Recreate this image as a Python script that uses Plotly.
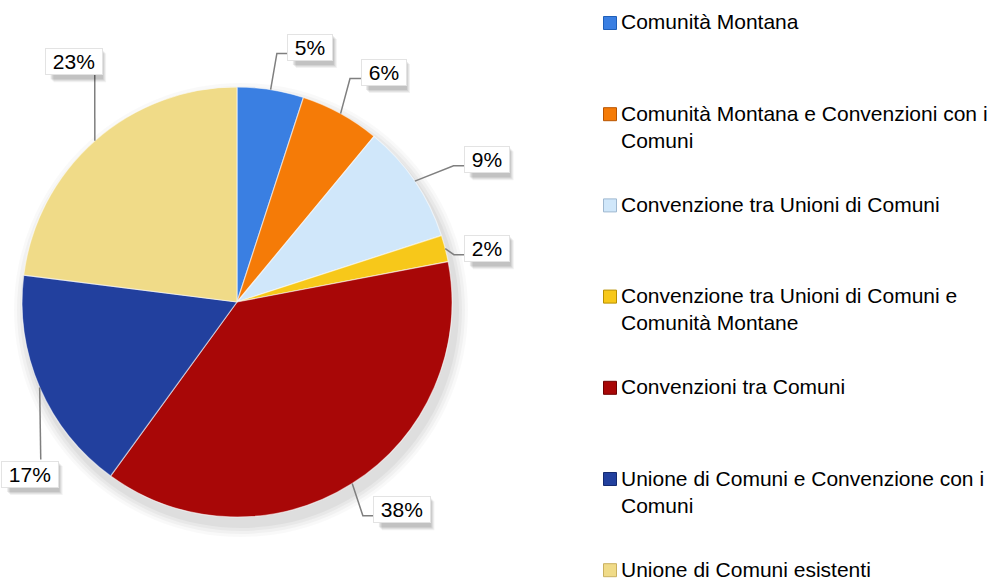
import math
import plotly.graph_objects as go

# ---------------- data ----------------
categories = [
    "Comunità Montana",
    "Comunità Montana e Convenzioni con i Comuni",
    "Convenzione tra Unioni di Comuni",
    "Convenzione tra Unioni di Comuni e Comunità Montane",
    "Convenzioni tra Comuni",
    "Unione di Comuni e Convenzione con i Comuni",
    "Unione di Comuni esistenti",
]
legend_lines = [
    "Comunità Montana",
    "Comunità Montana e Convenzioni con i<br>Comuni",
    "Convenzione tra Unioni di Comuni",
    "Convenzione tra Unioni di Comuni e<br>Comunità Montane",
    "Convenzioni tra Comuni",
    "Unione di Comuni e Convenzione con i<br>Comuni",
    "Unione di Comuni esistenti",
]
percentages = [5, 6, 9, 2, 38, 17, 23]

# ---------------- style ----------------
colors = ["#3A7FE2", "#F57B07", "#D0E7FA", "#F7C81A", "#A80707", "#22409E", "#F0DB88"]
edge_colors = ["#1F5FB8", "#B85400", "#9FB8D0", "#B88F00", "#6E0000", "#142A70", "#C9B060"]
W, H = 994, 584
FONT = "Liberation Sans, Arial, sans-serif"
FS = 21

# pie geometry (layout)
PIE_L, PIE_R, PIE_T, PIE_B = 22, 452, 87, 517
CX, CY = (PIE_L + PIE_R) / 2, (PIE_T + PIE_B) / 2
R = (PIE_R - PIE_L) / 2
LABEL_RF = 1.26
label_nudge = [(31, 13), (16, 8), (26, 10), (-12, 14), (20, -21), (42, 65), (16, -37)]

def px(x):
    return x / W

def py(y):
    return 1 - y / H

fig = go.Figure()
fig.add_trace(go.Pie(
    labels=categories,
    values=percentages,
    sort=False,
    direction="clockwise",
    rotation=0,
    textinfo="none",
    marker=dict(colors=colors, line=dict(color="rgba(255,255,255,0.55)", width=1.2)),
    domain=dict(x=[px(PIE_L), px(PIE_R)], y=[py(PIE_B), py(PIE_T)]),
    showlegend=False,
    hovertemplate="%{label}: %{percent}<extra></extra>",
))

shapes = []
annotations = []

# soft shadow behind the pie
for i, a in enumerate([0.025, 0.03, 0.035, 0.04]):
    rr = R + 12 - i * 3
    ox, oy = CX + 4, CY + 8
    shapes.append(dict(type="circle", xref="paper", yref="paper", layer="below",
                       x0=px(ox - rr), x1=px(ox + rr), y0=py(oy + rr), y1=py(oy - rr),
                       fillcolor=f"rgba(0,0,0,{a})", line=dict(width=0)))

# data labels with leader lines
total = sum(percentages)
cum = 0
for i, v in enumerate(percentages):
    mid = (cum + v / 2) / total * 2 * math.pi
    cum += v
    sx, sy = math.sin(mid), -math.cos(mid)
    ex, ey = CX + R * sx, CY + R * sy
    lx = CX + LABEL_RF * R * sx + label_nudge[i][0]
    ly = CY + LABEL_RF * R * sy + label_nudge[i][1]
    txt = f"{v}%"
    tw = len(txt) * 0.55 * FS + 0.3 * FS + 11.6
    th = 29
    if sx > 0:
        bl = lx - tw / 2 - 1
        yy = ly + 6
        path = f"M {px(ex)} {py(ey)} L {px(bl - 12)} {py(yy)} L {px(bl)} {py(yy)}"
    else:
        yy = ly - 15 if ly > ey else ly + 12
        path = f"M {px(ex)} {py(ey)} L {px(ex + (lx - ex) * 0.1 + 2)} {py(yy)}"
    shapes.append(dict(type="path", xref="paper", yref="paper", path=path,
                       line=dict(color="#7F7F7F", width=1.5)))
    # drop shadow of the label box
    for sh, al in [(6, 0.05), (5, 0.06), (4, 0.07), (3, 0.08)]:
        shapes.append(dict(type="rect", xref="paper", yref="paper",
                           x0=px(lx - tw / 2 + sh), x1=px(lx + tw / 2 + sh),
                           y0=py(ly + th / 2 + sh), y1=py(ly - th / 2 + sh),
                           fillcolor=f"rgba(0,0,0,{al})", line=dict(width=0)))
    annotations.append(dict(x=px(lx), y=py(ly), xref="paper", yref="paper",
                            xanchor="center", yanchor="middle",
                            text="\u00a0" + txt + "\u00a0", showarrow=False,
                            font=dict(family=FONT, size=FS, color="#000000"),
                            bgcolor="#FFFFFF", bordercolor="#E3E3E3", borderwidth=1,
                            borderpad=1))

# legend (custom, evenly spaced like the original)
LEG_X_SQ, LEG_X_TXT, LEG_Y0, LEG_DY, SQ = 603.5, 620, 23, 91.2, 13
for i, name in enumerate(legend_lines):
    yc = LEG_Y0 + i * LEG_DY
    shapes.append(dict(type="rect", xref="paper", yref="paper",
                       x0=px(LEG_X_SQ), x1=px(LEG_X_SQ + SQ),
                       y0=py(yc + SQ / 2), y1=py(yc - SQ / 2),
                       fillcolor=colors[i], line=dict(color=edge_colors[i], width=1)))
    annotations.append(dict(x=px(LEG_X_TXT), y=py(yc - 13.5), xref="paper", yref="paper",
                            xanchor="left", yanchor="top", align="left",
                            text=name, showarrow=False, borderpad=0,
                            font=dict(family=FONT, size=FS, color="#000000")))

fig.update_layout(
    width=W, height=H,
    margin=dict(l=0, r=0, t=0, b=0),
    paper_bgcolor="#FFFFFF",
    plot_bgcolor="#FFFFFF",
    shapes=shapes,
    annotations=annotations,
    showlegend=False,
)

fig.write_html("out.html", config={"displayModeBar": False},
               post_script="document.body.style.margin='0';")
